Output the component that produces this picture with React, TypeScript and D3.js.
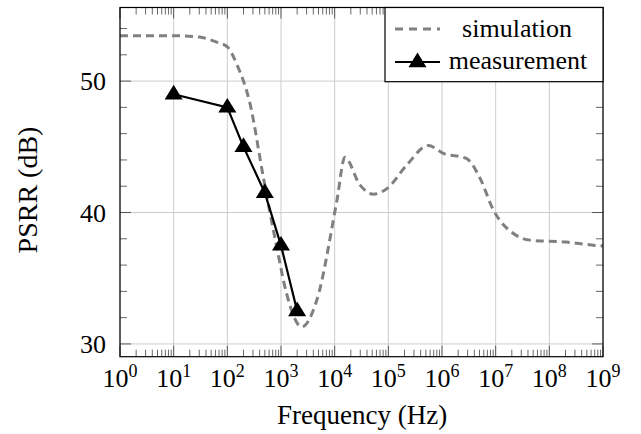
import React from "react";
import * as d3 from "d3";

const simFreq = [1, 10, 30, 60, 100, 153, 264, 468, 830, 1276, 2428, 4620, 11000, 15500, 29500, 52500, 93000, 219000, 556000, 1060000, 2880000, 5130000, 9040000, 21400000, 43600000, 209000000, 708000000, 1000000000];
const simDb = [53.45, 53.45, 53.35, 53.0, 52.6, 51.2, 48.3, 42.7, 37.4, 33.8, 31.3, 33.3, 40.9, 44.2, 42.1, 41.4, 41.8, 43.6, 45.1, 44.5, 44.1, 42.6, 40.2, 38.4, 37.9, 37.75, 37.5, 37.45];

const measFreq = [10, 100, 200, 500, 1000, 2000];
const measDb = [49.0, 48.0, 45.0, 41.5, 37.5, 32.5];

const xDecades = [0, 1, 2, 3, 4, 5, 6, 7, 8, 9];
const yMajor = [30, 40, 50];
const yMinor = [30, 32, 34, 36, 38, 40, 42, 44, 46, 48, 50, 52, 54];

const legendLabels = ["simulation", "measurement"];

const W = 641, H = 434;
const L = 120, R = 603, T = 7.5, B = 356.7;
const FONT = "Liberation Serif, Tinos, Times New Roman, DejaVu Serif, serif";

export default function App() {
  const x = d3.scaleLog().domain([1, 1e9]).range([L, R]);
  const y = d3.scaleLinear().domain([29.03, 55.6]).range([B, T]);

  const simLine = d3.line<number>()
    .x((_, i) => x(simFreq[i]))
    .y((d) => y(d))
    .curve(d3.curveMonotoneX)(simDb) as string;
  const measLine = d3.line<number>()
    .x((_, i) => x(measFreq[i]))
    .y((d) => y(d))(measDb) as string;

  const tri = (cx: number, cy: number, r = 9.5) =>
    `M${cx},${cy - r} L${cx + r * 0.95},${cy + r * 0.55} L${cx - r * 0.95},${cy + r * 0.55} Z`;

  const minorX: number[] = [];
  for (let dec = 0; dec < 9; dec++) {
    for (let k = 2; k <= 9; k++) minorX.push(k * Math.pow(10, dec));
  }

  return (
    <svg width={W} height={H} style={{ position: "absolute", left: 0, top: 0, background: "#fff", fontFamily: FONT }}>
      <rect x={0} y={0} width={W} height={H} fill="#fff" />
      {xDecades.map((d) => (
        <line key={"gx" + d} x1={x(Math.pow(10, d))} x2={x(Math.pow(10, d))} y1={T} y2={B} stroke="#cccccc" strokeWidth={1} />
      ))}
      {yMajor.map((v) => (
        <line key={"gy" + v} x1={L} x2={R} y1={y(v)} y2={y(v)} stroke="#cccccc" strokeWidth={1} />
      ))}
      {minorX.map((f, i) => (
        <g key={"mx" + i}>
          <line x1={x(f)} x2={x(f)} y1={B} y2={B - 7} stroke="#000" strokeWidth={0.6} />
          <line x1={x(f)} x2={x(f)} y1={T} y2={T + 7} stroke="#000" strokeWidth={0.6} />
        </g>
      ))}
      {xDecades.map((d) => (
        <g key={"Mx" + d}>
          <line x1={x(Math.pow(10, d))} x2={x(Math.pow(10, d))} y1={B} y2={B - 11} stroke="#000" strokeWidth={0.6} />
          <line x1={x(Math.pow(10, d))} x2={x(Math.pow(10, d))} y1={T} y2={T + 11} stroke="#000" strokeWidth={0.6} />
        </g>
      ))}
      {yMinor.map((v) => {
        const len = yMajor.includes(v) ? 11 : 7;
        return (
          <g key={"my" + v}>
            <line x1={L} x2={L + len} y1={y(v)} y2={y(v)} stroke="#000" strokeWidth={0.6} />
            <line x1={R} x2={R - len} y1={y(v)} y2={y(v)} stroke="#000" strokeWidth={0.6} />
          </g>
        );
      })}
      <path d={simLine} fill="none" stroke="#808080" strokeWidth={3} strokeDasharray="8,5" />
      <path d={measLine} fill="none" stroke="#000" strokeWidth={2.2} />
      {measFreq.map((f, i) => (
        <path key={"m" + i} d={tri(x(f), y(measDb[i]))} fill="#000" />
      ))}
      <rect x={L} y={T} width={R - L} height={B - T} fill="none" stroke="#000" strokeWidth={1.2} />
      {xDecades.map((d) => (
        <text key={"xl" + d} x={x(Math.pow(10, d))} y={387} textAnchor="middle" fontSize={26} fill="#000">
          10<tspan fontSize={18} dy={-10}>{d}</tspan>
        </text>
      ))}
      {yMajor.map((v) => (
        <text key={"yl" + v} x={106} y={y(v) + 9} textAnchor="end" fontSize={26} fill="#000">{v}</text>
      ))}
      <text x={277} y={424} textAnchor="start" fontSize={27} fill="#000">Frequency (Hz)</text>
      <text transform={`translate(37,190) rotate(-90)`} textAnchor="middle" fontSize={28} fill="#000">PSRR (dB)</text>
      <rect x={385} y={T} width={R - 385} height={81.7 - T} fill="#fff" stroke="#000" strokeWidth={1.2} />
      <line x1={395} x2={440} y1={29} y2={29} stroke="#808080" strokeWidth={3} strokeDasharray="8,6" />
      <text x={517} y={37} textAnchor="middle" fontSize={26} fill="#000">{legendLabels[0]}</text>
      <line x1={395} x2={440} y1={62} y2={62} stroke="#000" strokeWidth={2.2} />
      <path d={tri(417.5, 62)} fill="#000" />
      <text x={518} y={69} textAnchor="middle" fontSize={26} fill="#000">{legendLabels[1]}</text>
    </svg>
  );
}
